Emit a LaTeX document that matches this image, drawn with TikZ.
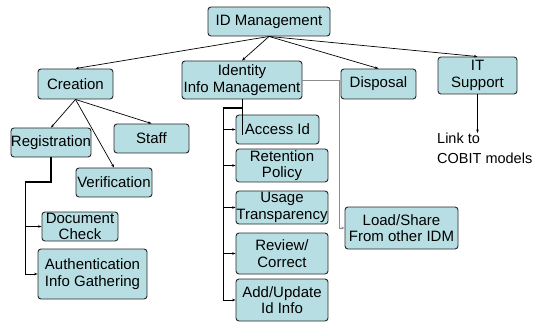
\documentclass[tikz,border=0pt]{standalone}
\usepackage{fontspec}
\setmainfont{Liberation Sans}
\usetikzlibrary{arrows.meta}
\definecolor{boxfill}{RGB}{183,222,227}
\definecolor{boxline}{RGB}{40,40,40}

\begin{document}
\begin{tikzpicture}[x=1pt, y=-1pt,
	box/.style={draw=boxline, fill=boxfill, rounded corners=3pt, line width=0.9pt,
		inner sep=0pt, align=center, font=\fontsize{15}{16.5}\selectfont},
	link/.style={line width=0.7pt, -{Stealth[length=3.5pt,width=2.6pt]}},
	plain/.style={line width=0.7pt}]
			%%%%% START %%%%%
			\useasboundingbox (0, 0) rectangle (535, 323);
			
			\node[box, minimum width=122, minimum height=29] (idm) at (269, 21.5) {ID Management};
			
			\node[box, minimum width=75, minimum height=30] (creation) at (75.5, 84) {Creation};
			\node[box, minimum width=120, minimum height=38] (iim) at (242, 80) {Identity\\Info Management};
			\node[box, minimum width=75, minimum height=30] (disposal) at (378.5, 84) {Disposal};
			\node[box, minimum width=79, minimum height=37] (itsup) at (477.5, 75.5) {IT\\Support};
			
			\node[box, minimum width=76, minimum height=29] (reg) at (51, 142.5) {Registration};
			\node[box, minimum width=75, minimum height=29] (staff) at (151.5, 138.5) {Staff};
			\node[box, minimum width=76, minimum height=29] (verif) at (114, 182.5) {Verification};
			\node[box, minimum width=76, minimum height=29] (doccheck) at (80, 226.5) {Document\\Check};
			\node[box, minimum width=109, minimum height=50] (auth) at (92.5, 274) {Authentication\\Info Gathering};
			
			\node[box, minimum width=83, minimum height=29] (access) at (277.5, 129.5) {Access Id};
			\node[box, minimum width=92, minimum height=33] (retain) at (282, 165.5) {Retention\\Policy};
			\node[box, minimum width=92, minimum height=33] (usage) at (282, 207.5) {Usage\\Transparency};
			\node[box, minimum width=92, minimum height=41] (review) at (282, 253.5) {Review/\\Correct};
			\node[box, minimum width=92, minimum height=42] (addupd) at (282, 300) {Add/Update\\Id Info};
			
			\node[box, minimum width=113, minimum height=42] (load) at (401.5, 228) {Load/Share\\From other IDM};
			
			\node[anchor=north west, align=left, inner sep=0pt,
				font=\fontsize{14.5}{19.5}\selectfont] (cobit) at (437, 133) {Link to\\COBIT models};
			
			% top level
			\draw[link] (idm.south) -- (creation.north);
			\draw[link] (idm.south) -- (iim.north);
			\draw[link] (idm.south) -- (disposal.north);
			\draw[link] (idm.south) -- (itsup.north);
			
			% creation branch
			\draw[link] (creation.south) -- (reg.north);
			\draw[link] (creation.south) -- (staff.north);
			\draw[link] (creation.south) -- (verif.north);
			
			\coordinate (regbend) at (25, 182);
			\draw[plain, line width=1.2pt] (reg.south) |- (regbend);
			\draw[link] (regbend) |- (doccheck.west);
			\draw[link] (regbend) |- (auth.west);
			
			% identity info branch
			\coordinate (iimbend) at (223, 108);
			\coordinate (iimstub) at (242, 135);
			\draw[plain] (iim.south) -- (iimstub);
			\draw[plain, line width=2pt] (iim.south |- iimbend) -- (iimbend);
			\draw[link] (iimbend) |- (access.west);
			\draw[link] (iimbend) |- (retain.west);
			\draw[link] (iimbend) |- (usage.west);
			\draw[link] (iimbend) |- (review.west);
			\draw[link] (iimbend) |- (addupd.west);
			
			\coordinate (iimside) at (339, 80);
			\draw[plain, color=black!45] (iim.east) -- (iimside);
			\draw[link, color=black!45] (iimside) |- (load.west);
			
			% it support
			\draw[link] (itsup.south) -- (itsup.south |- cobit.north);
			%%%%% END %%%%%
\end{tikzpicture}
\end{document}
